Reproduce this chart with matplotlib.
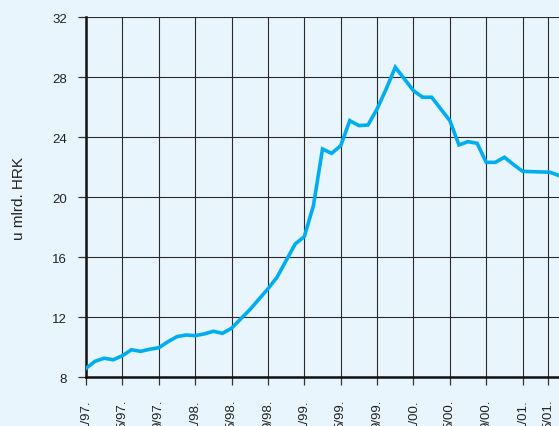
import matplotlib.pyplot as plt

# Mjesečni podaci, siječanj 1997. - svibanj 2001. (u mlrd. HRK)
mjeseci = list(range(53))
vrijednosti = [8.6, 9.07, 9.27, 9.17, 9.44, 9.84, 9.73, 9.87, 9.97, 10.37,
               10.71, 10.82, 10.78, 10.89, 11.07, 10.93, 11.27, 11.89, 12.5, 13.2,
               13.9, 14.67, 15.78, 16.89, 17.38, 19.44, 23.22, 22.93, 23.44, 25.11,
               24.78, 24.82, 25.89, 27.22, 28.67, 27.89, 27.11, 26.67, 26.67, 25.89,
               25.11, 23.49, 23.71, 23.6, 22.33, 22.33, 22.67, 22.18, 21.73, 21.71,
               21.69, 21.67, 21.45]

x_oznake = ["1/97.", "5/97.", "9/97.", "1/98.", "5/98.", "9/98.", "1/99.",
            "5/99.", "9/99.", "1/00.", "5/00.", "9/00.", "1/01.", "5/01."]
x_polozaji = [0, 4, 8, 12, 16, 20, 24, 28, 32, 36, 40, 44, 48, 50.8]
y_oznake = [8, 12, 16, 20, 24, 28, 32]

plt.rcParams['font.family'] = ['Liberation Sans', 'DejaVu Sans']
pozadina = '#E9F5FD'

fig = plt.figure(figsize=(5.59, 4.27), dpi=100)
fig.patch.set_facecolor(pozadina)
ax = fig.add_axes([86/559, 48.7/427, 1 - 86/559, 360/427])
ax.set_facecolor(pozadina)

ax.plot(mjeseci, vrijednosti, color='#00AEEF', linewidth=2.6,
        solid_joinstyle='miter', zorder=3)

ax.set_xlim(0, 52)
ax.set_ylim(8, 32)
ax.set_xticks(x_polozaji)
ax.set_xticklabels(x_oznake, rotation=90, va='top')
ax.set_yticks(y_oznake)

ax.grid(True, color='#2a2a2a', linewidth=0.8)
ax.set_axisbelow(True)
for s in ['top', 'right']:
    ax.spines[s].set_visible(False)
for s in ['left', 'bottom']:
    ax.spines[s].set_linewidth(1.8)
    ax.spines[s].set_color('#111111')

ax.tick_params(axis='both', length=6, width=0.9, color='#333333',
               labelsize=9.5, labelcolor='#222222')
ax.tick_params(axis='y', pad=7.5)
ax.tick_params(axis='x', pad=9)

ax.set_ylabel("u mlrd. HRK", fontsize=11, color='#222222', labelpad=19)

fig.savefig("out.png", dpi=100, facecolor=pozadina)
